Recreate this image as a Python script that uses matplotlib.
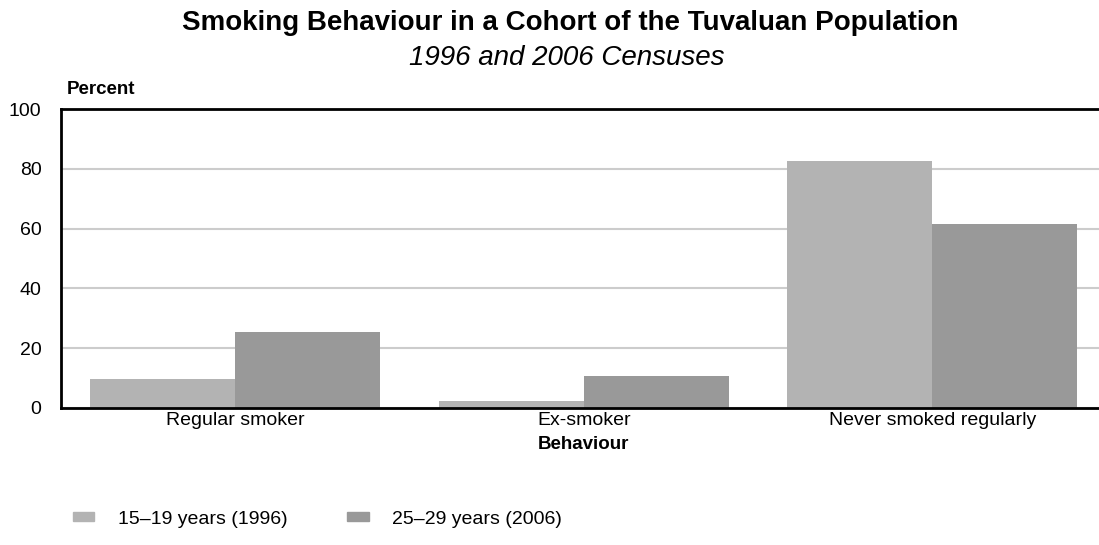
import matplotlib.pyplot as plt
import numpy as np
from matplotlib.patches import Patch

# данные
categories = ['Regular smoker', 'Ex-smoker', 'Never smoked regularly']
series_names = ['15–19 years (1996)', '25–29 years (2006)']
vals_1996 = [9.8, 2.3, 82.5]
vals_2006 = [25.5, 10.7, 61.5]
y_ticks = [0, 20, 40, 60, 80, 100]

CLR_LIGHT = '#b3b3b3'
CLR_DARK = '#999999'

plt.rcParams['font.family'] = ['Liberation Sans', 'DejaVu Sans']

fig = plt.figure(figsize=(10.99, 5.45), dpi=100)
ax = fig.add_axes([61 / 1099, 137 / 545, 1045.5 / 1099, 299 / 545])

x = np.arange(len(categories))
w = 0.416
ax.bar(x - w / 2, vals_1996, width=w, color=CLR_LIGHT, zorder=2)
ax.bar(x + w / 2, vals_2006, width=w, color=CLR_DARK, zorder=2)

ax.set_xlim(-0.5, 2.5)
ax.set_ylim(0, 100)
ax.set_yticks(y_ticks)
ax.set_yticklabels([str(v) for v in y_ticks], fontsize=14)
ax.set_xticks(x)
ax.set_xticklabels(categories, fontsize=14)
ax.tick_params(length=0)
ax.tick_params(axis='y', pad=14)
ax.tick_params(axis='x', pad=3)

ax.grid(axis='y', color='#cccccc', linewidth=1.5, zorder=0)
ax.set_axisbelow(True)
for s in ['left', 'bottom', 'top']:
    ax.spines[s].set_linewidth(2)
    ax.spines[s].set_color('black')
    ax.spines[s].set_zorder(3)
ax.spines['right'].set_visible(False)

ax.set_xlabel('Behaviour', fontsize=13.5, fontweight='bold', labelpad=5)

fig.text(570 / 1099, 1 - 23 / 545, 'Smoking Behaviour in a Cohort of the Tuvaluan Population',
         ha='center', va='center', fontsize=20, fontweight='bold')
fig.text(567 / 1099, 1 - 58 / 545, '1996 and 2006 Censuses', ha='center', va='center',
         fontsize=20, style='italic')
fig.text(67 / 1099, 1 - 90 / 545, 'Percent', ha='left', va='center',
         fontsize=13.5, fontweight='bold')

handles = [Patch(color=CLR_LIGHT), Patch(color=CLR_DARK)]
fig.legend(handles, series_names, loc='center left',
           bbox_to_anchor=(65 / 1099, 1 - 519 / 545), ncol=2, frameon=False,
           fontsize=14, handlelength=1.1, handleheight=0.4,
           handletextpad=1.2, columnspacing=3.1, borderaxespad=0)

plt.savefig('out.png', dpi=100)
